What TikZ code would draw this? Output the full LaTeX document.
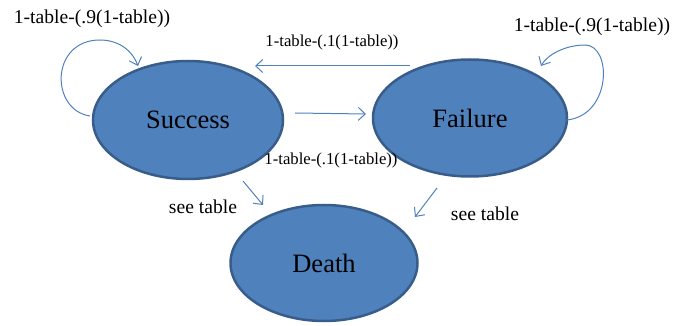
\documentclass[tikz,border=0pt]{standalone}
\usepackage{fontspec}
\setmainfont{Liberation Serif}
\usetikzlibrary{shapes.geometric,arrows.meta}
\definecolor{fillblue}{HTML}{4F81BD}
\definecolor{edgeblue}{HTML}{385D8A}
\tikzset{
  state/.style={ellipse, fill=fillblue, draw=edgeblue, line width=2.5pt, inner sep=0pt,
    font=\fontsize{26.5}{29}\selectfont, text=black},
  conn/.style={draw=fillblue, line width=1pt, -{Straight Barb[length=7pt,width=13pt]}},
  biglab/.style={font=\fontsize{19.6}{22}\selectfont, inner sep=0pt},
  smalllab/.style={font=\fontsize{16.7}{19}\selectfont, inner sep=0pt},
}
\begin{document}
\begin{tikzpicture}[x=1pt,y=-1pt]
\useasboundingbox (0,0) rectangle (686,326);
\node[state, minimum width=190pt, minimum height=118pt] (S) at (188,120) {Success};
\node[state, minimum width=194pt, minimum height=117pt] (F) at (470,118) {Failure};
\node[state, minimum width=187pt, minimum height=116pt] (D) at (324,263) {Death};
% labels
\node[biglab] (lS) at (92,19) {1-table-(.9(1-table))};
\node[biglab] (lF) at (592,27) {1-table-(.9(1-table))};
\node[smalllab] (lFS) at (332,42) {1-table-(.1(1-table))};
\node[smalllab] (lSF) at (331,160) {1-table-(.1(1-table))};
\node[biglab] (lSD) at (203,207) {see table};
\node[biglab] (lFD) at (485,214) {see table};
% coordinates of free ends
\coordinate (fs1) at (410,66);
\coordinate (fs2) at (255,66);
\coordinate (sf1) at (295,113);
\coordinate (sf2) at (366,114);
\coordinate (sd1) at (243,181);
\coordinate (sd2) at (263,205);
\coordinate (fd1) at (437,188);
\coordinate (fd2) at (415,217);
\coordinate (sl1) at (90,116);
\coordinate (sl2) at (138,66);
\coordinate (fl1) at (567,120);
\coordinate (fl2) at (541,66);
% connectors
\draw[conn] (fs1) -- (fs2);
\draw[conn] (sf1) -- (sf2);
\draw[conn] (sd1) -- (sd2);
\draw[conn] (fd1) -- (fd2);
\draw[conn] (sl1) .. controls (50,110) and (50,40) .. (100,40) .. controls (120,40) and (133,52) .. (sl2);
\draw[conn] (fl1) .. controls (612,115) and (612,45) .. (585,45) .. controls (565,45) and (547,55) .. (fl2);
\end{tikzpicture}
\end{document}
